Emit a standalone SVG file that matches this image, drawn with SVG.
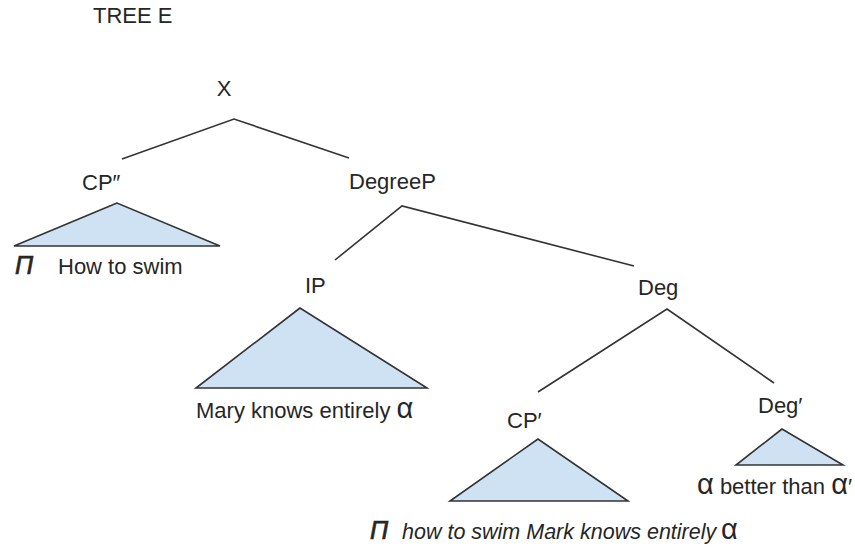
<svg xmlns="http://www.w3.org/2000/svg" width="855" height="552" viewBox="0 0 855 552">
  <style>
    text { font-family: "Liberation Sans", Arial, sans-serif; font-size: 22px; fill: #262626; }
    .mid { text-anchor: middle; }
    .tri { fill: #cfe2f3; stroke: #333333; stroke-width: 1.6; stroke-linejoin: miter; }
    .edge { stroke: #333333; stroke-width: 1.6; fill: none; }
    .alpha { font-size: 29px; }
    .pi { font-size: 25px; font-style: italic; stroke: #262626; stroke-width: 0.7; }
    .it { font-style: italic; font-size: 21.5px; }
  </style>
  <rect width="855" height="552" fill="#ffffff"/>

  <text id="title" x="93" y="23">TREE E</text>

  <!-- branch lines -->
  <g id="connectors">
    <polyline class="edge" points="122,159 234,119 349,158"/>
    <polyline class="edge" points="335,260 402,206 634,266"/>
    <polyline class="edge" points="538,392 667,309 774,383"/>
  </g>

  <g id="node-x">
    <text class="mid" x="224" y="96">X</text>
  </g>

  <g id="node-cp2">
    <text x="82" y="190">CP″</text>
    <polygon class="tri" points="117,203 14,246 220,246"/>
    <text x="15" y="274"><tspan class="pi">Π</tspan><tspan x="58">How to swim</tspan></text>
  </g>

  <g id="node-degreep">
    <text x="349" y="189">DegreeP</text>
  </g>

  <g id="node-ip">
    <text x="305" y="293">IP</text>
    <polygon class="tri" points="300,308 196,388 427,388"/>
    <text x="196" y="418">Mary knows entirely <tspan class="alpha">α</tspan></text>
  </g>

  <g id="node-deg">
    <text x="638" y="295">Deg</text>
  </g>

  <g id="node-cp1">
    <text x="507" y="428">CP′</text>
    <polygon class="tri" points="538,439 450,501 628,501"/>
    <text x="370" y="539"><tspan class="pi">Π</tspan><tspan class="it" x="402">how to swim Mark knows entirely</tspan><tspan class="alpha" x="721">α</tspan></text>
  </g>

  <g id="node-deg1">
    <text x="758" y="413">Deg′</text>
    <polygon class="tri" points="782,429 736,465 843,465"/>
    <text x="697" y="494"><tspan class="alpha">α</tspan> better than <tspan class="alpha">α</tspan>′</text>
  </g>
</svg>
